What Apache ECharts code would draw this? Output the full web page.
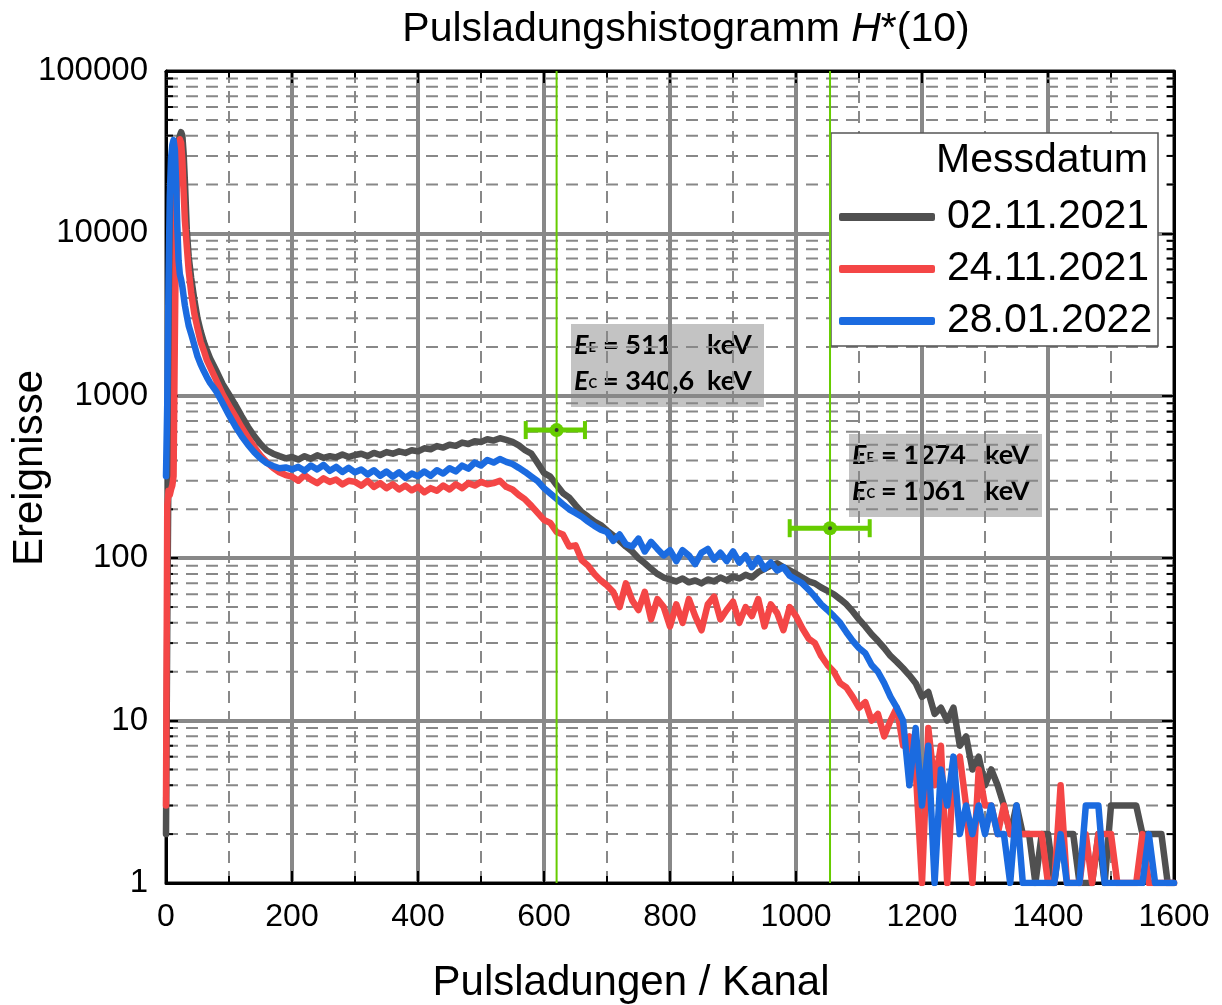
<!DOCTYPE html>
<html>
<head>
<meta charset="utf-8">
<script src="https://cdn.jsdelivr.net/npm/echarts@6/dist/echarts.min.js"></script>
<style>html,body{margin:0;padding:0;background:#fff}#c{width:1222px;height:1005px}</style>
</head>
<body>
<div id="c"></div>
<script>
// ---- data ----
const channels = [
  0,2,4,6,8,10,12,14,16,18,20,22,24,26,28,30,33,36,40,45,50,55,60,65,70,80,90,100,
  110,120,130,140,150,160,170,180,190,200,
  210,220,230,240,250,260,270,280,290,300,
  310,320,330,340,350,360,370,380,390,400,
  410,420,430,440,450,460,470,480,490,500,
  510,520,530,540,550,560,570,580,590,600,
  610,620,630,640,650,660,670,680,690,700,
  710,720,730,740,750,760,770,780,790,800,
  810,820,830,840,850,860,870,880,890,900,
  910,920,930,940,950,960,970,980,990,1000,
  1010,1020,1030,1040,1050,1060,1070,1080,1090,1100,
  1110,1120,1130,1140,1150,1160,1170,1180,1190,1200,
  1210,1220,1230,1240,1250,1260,1270,1280,1290,1300,
  1310,1320,1330,1340,1350,1360,1370,1380,1390,1400,
  1410,1420,1430,1440,1450,1460,1470,1480,1490,1500,
  1510,1520,1530,1540,1550,1560,1570,1580,1590,1600
];
const counts_02_11_2021 = [
  2,40,400,1800,4500,8500,14000,20000,26000,32000,37000,40000,42000,40000,31000,21000,10500,7200,5300,3900,3000,2500,2150,1900,1700,1420,1180,1020,
  880,750,645,565,505,462,440,425,412,420,
  405,425,410,430,415,425,418,435,420,432,
  440,425,445,432,450,440,455,445,462,455,
  475,468,490,480,500,492,515,505,525,520,
  540,530,548,535,520,495,462,440,385,335,
  318,282,252,236,212,192,180,168,160,148,
  138,128,118,110,100,93,86,80,76,74,
  72,75,71,73,70,74,72,76,73,77,
  75,79,76,82,86,90,93,88,84,80,
  76,72,70,66,63,60,56,52,47,42,
  38,34,31,28,25,23,21,19,17,14,
  15,11,12,10,12,7,8,5,6,4,
  5,4,3,2,3,2,2,1,2,2,
  1,2,2,2,1,1,1,2,1,3,
  3,3,3,3,2,2,2,2,1,1
];
const counts_24_11_2021 = [
  3,210,260,245,265,280,320,2200,12000,27000,35000,38000,36000,28000,18000,12000,8300,5900,4300,3200,2600,2150,1900,1650,1500,1240,1020,870,
  750,640,555,485,430,390,360,338,325,318,
  300,325,305,290,310,295,305,285,300,295,
  280,300,275,290,270,285,265,280,262,275,
  255,270,260,280,265,285,270,290,280,295,
  285,290,300,275,265,245,230,210,190,172,
  165,145,140,118,120,97,90,80,73,68,
  62,50,70,55,48,62,42,56,50,38,
  52,40,56,44,36,52,58,42,48,54,
  40,50,44,56,38,52,46,36,50,44,
  37,32,30,25,22,20,17,16,14,12,
  13,10,11,8,10,12,7,8,5,1,
  9,4,7,1,5,6,3,1,5,3,
  3,2,3,2,2,2,2,2,2,1,
  1,4,1,1,1,2,1,2,2,2,
  1,1,1,1,2,1,1,1,1,1
];
const counts_28_01_2022 = [
  320,900,5000,17000,29000,35000,37500,33000,21000,11000,6800,5600,5200,4700,4100,3600,3100,2700,2400,2050,1750,1560,1420,1300,1200,1060,900,760,
  650,565,500,450,412,385,370,358,362,352,
  365,345,372,352,375,345,365,340,360,338,
  352,328,348,322,342,318,338,312,332,320,
  342,322,348,332,358,342,372,356,388,372,
  402,388,408,392,380,360,340,318,298,270,
  250,232,215,200,190,180,168,158,150,145,
  128,140,122,118,132,110,126,114,104,112,
  96,112,104,92,108,114,98,108,96,110,
  94,104,88,100,86,94,84,88,78,74,
  70,64,58,52,48,44,40,35,31,28,
  26,22,20,17,14,12,10,4,9,3,
  7,1,5,3,6,2,3,2,3,2,
  3,2,2,1,3,1,1,1,1,1,
  1,2,1,1,1,3,3,3,1,1,
  1,1,1,1,1,2,1,1,1,1
];
const seriesNames = ['02.11.2021','24.11.2021','28.01.2022'];
const seriesColors = ['#505050','#f44646','#1b6be0'];
// peak markers: [channel, events, channel low, channel high]
const peakMarkers = [[620, 615, 571, 665],[1054, 153, 990, 1117]];
const peakLabels = [
  {ee:'511', ec:'340,6'},
  {ee:'1274', ec:'1061'}
];
const yTicks = [1,10,100,1000,10000,100000];
const yMinorMultipliers = [2,3,4,5,6,7,8,9];
const yMinorTicks = [];
[1,10,100,1000,10000].forEach(d => yMinorMultipliers.forEach(m => yMinorTicks.push(d*m)));

const FONT = '"Liberation Sans", Arial, sans-serif';
const AFONT = 'Lato, "Open Sans", sans-serif';
const chart = echarts.init(document.getElementById('c'), null, {renderer:'canvas'});

function mkSeries(i, arr){
  return {
    name: seriesNames[i], type:'line', data: channels.map((c,k)=>[c, arr[k]]),
    showSymbol:false, symbol:'none', z: 3+i, animation:false,
    lineStyle:{color:seriesColors[i], width:6.5, cap:'round', join:'round'},
    itemStyle:{color:seriesColors[i]}
  };
}

const tickStyle = {color:'#000', width:2};
function annot(x, y, lab){
  const rich = {
    e:{fontFamily:AFONT, fontSize:27, fontWeight:'bold', fontStyle:'italic', fill:'#000'},
    s:{fontFamily:AFONT, fontSize:13, fontWeight:'bold', fill:'#000', verticalAlign:'bottom', padding:[0,3,4,0]}
  };
  const plain = {fontFamily:AFONT, fontSize:27, fontWeight:'bold', fill:'#000', textVerticalAlign:'middle'};
  return {type:'group', x:x, y:y, z:6, children:[
    {type:'rect', shape:{x:0, y:0, width:193, height:83}, style:{fill:'#c3c3c3'}},
    {type:'text', x:3, y:21, style:{text:'{e|E}{s|E}', rich:rich, textVerticalAlign:'middle'}},
    {type:'text', x:3, y:57, style:{text:'{e|E}{s|C}', rich:rich, textVerticalAlign:'middle'}},
    {type:'text', x:32, y:21, style:Object.assign({text:'= ' + lab.ee}, plain)},
    {type:'text', x:32, y:57, style:Object.assign({text:'= ' + lab.ec}, plain)},
    {type:'text', x:136, y:21, style:Object.assign({text:'keV'}, plain)},
    {type:'text', x:136, y:57, style:Object.assign({text:'keV'}, plain)}
  ]};
}

const option = {
  animation:false,
  backgroundColor:'#fff',
  grid:{left:166, top:71, right:48, bottom:122, containLabel:false},
  legend:{
    data: seriesNames, orient:'vertical', left:834, top:186,
    itemWidth:96, itemHeight:8, itemGap:0, icon:'roundRect', selectedMode:false, z:5,
    textStyle:{fontFamily:FONT, fontSize:41, color:'#000', lineHeight:52, padding:[0,0,0,7]}
  },
  xAxis:[
    {type:'value', min:0, max:1600, interval:200, position:'bottom',
     axisLine:{show:true, onZero:false, lineStyle:{color:'#000', width:3}},
     axisTick:{show:true, inside:true, length:12, lineStyle:tickStyle},
     minorTick:{show:true, splitNumber:2, length:7, lineStyle:tickStyle},
     splitLine:{show:true, lineStyle:{color:'#888', width:4}},
     minorSplitLine:{show:true, lineStyle:{color:'#888', width:2, type:[12,8]}},
     axisLabel:{fontFamily:FONT, fontSize:32, color:'#000', margin:18, formatter:v => String(Math.round(v))}},
    {type:'value', min:0, max:1600, interval:200, position:'top',
     axisLine:{show:true, onZero:false, lineStyle:{color:'#000', width:3}},
     axisTick:{show:true, inside:true, length:12, lineStyle:tickStyle},
     minorTick:{show:true, splitNumber:2, length:7, lineStyle:tickStyle},
     splitLine:{show:false}, axisLabel:{show:false}}
  ],
  yAxis:[
    {type:'log', logBase:10, min:1, max:100000, position:'left',
     axisLine:{show:true, onZero:false, lineStyle:{color:'#000', width:3}},
     axisTick:{show:true, inside:true, length:12, lineStyle:tickStyle},
     splitLine:{show:true, lineStyle:{color:'#888', width:4}},
     axisLabel:{fontFamily:FONT, fontSize:33, color:'#000', margin:18,
       formatter:v => { const r = Math.round(v); return yTicks.indexOf(r) >= 0 ? String(r) : ''; }}},
    {type:'log', logBase:10, min:1, max:100000, position:'right',
     axisLine:{show:true, onZero:false, lineStyle:{color:'#000', width:3}},
     axisTick:{show:true, inside:true, length:12, lineStyle:tickStyle},
     splitLine:{show:false}, axisLabel:{show:false}}
  ],
  series:[
    {type:'custom', name:'minorGrid', z:1, silent:true, animation:false, xAxisIndex:0, yAxisIndex:0,
     data: yMinorTicks.map(v => [0, v]),
     renderItem:(params, api) => {
       const cs = params.coordSys;
       const y = api.coord([0, api.value(1)])[1];
       return {type:'group', children:[
         {type:'line', shape:{x1:cs.x, y1:y, x2:cs.x+cs.width, y2:y}, style:{stroke:'#888', lineWidth:2, lineDash:[12,8]}},
         {type:'line', shape:{x1:cs.x, y1:y, x2:cs.x+7, y2:y}, style:{stroke:'#000', lineWidth:2}},
         {type:'line', shape:{x1:cs.x+cs.width-7, y1:y, x2:cs.x+cs.width, y2:y}, style:{stroke:'#000', lineWidth:2}}
       ]};
     }},
    mkSeries(0, counts_02_11_2021),
    mkSeries(1, counts_24_11_2021),
    mkSeries(2, counts_28_01_2022),
    {type:'custom', name:'peaks', z:8, silent:true, animation:false, xAxisIndex:0, yAxisIndex:0,
     data: peakMarkers,
     renderItem:(params, api) => {
       const cs = params.coordSys;
       const c = api.coord([api.value(0), api.value(1)]);
       const lo = api.coord([api.value(2), api.value(1)]);
       const hi = api.coord([api.value(3), api.value(1)]);
       const g = '#66cc00';
       return {type:'group', children:[
         {type:'line', shape:{x1:c[0], y1:cs.y, x2:c[0], y2:cs.y+cs.height}, style:{stroke:g, lineWidth:2}},
         {type:'line', shape:{x1:lo[0], y1:c[1], x2:hi[0], y2:c[1]}, style:{stroke:g, lineWidth:5}},
         {type:'line', shape:{x1:lo[0], y1:c[1]-9, x2:lo[0], y2:c[1]+9}, style:{stroke:g, lineWidth:4}},
         {type:'line', shape:{x1:hi[0], y1:c[1]-9, x2:hi[0], y2:c[1]+9}, style:{stroke:g, lineWidth:4}},
         {type:'circle', shape:{cx:c[0], cy:c[1], r:7}, style:{fill:g}},
         {type:'circle', shape:{cx:c[0], cy:c[1], r:2}, style:{fill:'#333'}}
       ]};
     }}
  ],
  graphic:[
    {type:'text', x:686, y:30, z:6, style:{text:'{n|Pulsladungshistogramm }{i|H}{n|*(10)}', textAlign:'center', textVerticalAlign:'middle',
      rich:{n:{fontFamily:FONT, fontSize:41, fill:'#000'}, i:{fontFamily:FONT, fontSize:41, fontStyle:'italic', fill:'#000'}}}},
    {type:'text', x:631, y:983, z:6, style:{text:'Pulsladungen / Kanal', fontFamily:FONT, fontSize:42, fill:'#000', textAlign:'center', textVerticalAlign:'middle'}},
    {type:'text', x:30, y:468, rotation:Math.PI/2, z:6, style:{text:'Ereignisse', fontFamily:FONT, fontSize:42, fill:'#000', textAlign:'center', textVerticalAlign:'middle'}},
    {type:'rect', z:3, shape:{x:831, y:133, width:327, height:213}, style:{fill:'#fff', stroke:'#555', lineWidth:1.5}},
    {type:'text', x:1148, y:161, z:6, style:{text:'Messdatum', fontFamily:FONT, fontSize:41, fill:'#000', textAlign:'right', textVerticalAlign:'middle'}},
    annot(571, 324, peakLabels[0]),
    annot(849, 434, peakLabels[1])
  ]
};
chart.setOption(option);
</script>
</body>
</html>
